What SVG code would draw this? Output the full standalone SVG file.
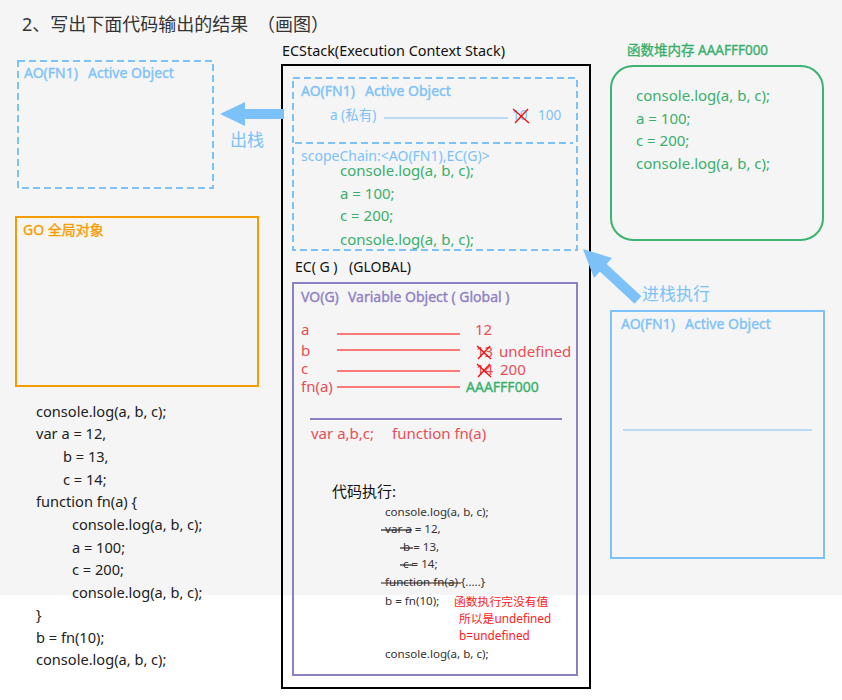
<svg xmlns="http://www.w3.org/2000/svg" width="842" height="700" viewBox="0 0 842 700">
<defs>
<style>
text{font-family:"Noto Sans","Noto Sans CJK SC",sans-serif;}
.t{fill:#333;font-size:18px;}
.lb{fill:#7cc2f8;font-size:14px;stroke:#7cc2f8;stroke-width:0.35;}
.lbc{fill:#7cc2f8;font-size:13.5px;}
.g{fill:#3aaf6c;font-size:15px;}
.r{fill:#ea4d55;font-size:15px;}
.k{fill:#222;font-size:14.6px;}
.s{fill:#333;font-size:11.6px;}
.rs{fill:#ff2020;font-size:11.8px;}
.dash{fill:none;stroke:#7cc2f8;stroke-width:2;stroke-dasharray:7,4;}
.rl{stroke:#ff0000;stroke-width:1.2;}
.x{stroke:#ff0000;stroke-width:1.2;}
.st{stroke:#222;stroke-width:1.2;}
</style>
</defs>
<rect x="0" y="0" width="842" height="595" fill="#f5f5f5"/>
<rect x="0" y="595" width="842" height="105" fill="#ffffff"/>
<text class="t" x="22" y="31">2、写出下面代码输出的结果</text>
<text class="t" x="257" y="31">（画图）</text>

<g id="ao-left">
<rect class="dash" x="18" y="61" width="195" height="127"/>
<text class="lb" x="24" y="78">AO(FN1)</text>
<text class="lb" x="88" y="78">Active Object</text>
</g>

<g id="go">
<rect x="16" y="217" width="242" height="169" fill="none" stroke="#f59d00" stroke-width="2"/>
<text x="23" y="235" style="fill:#f59d00;font-size:14px;stroke:#f59d00;stroke-width:0.35">GO 全局对象</text>
</g>

<g id="source-code">
<text class="k" x="36" y="417">console.log(a, b, c);</text>
<text class="k" x="36" y="439">var a = 12,</text>
<text class="k" x="63" y="462">b = 13,</text>
<text class="k" x="63" y="485">c = 14;</text>
<text class="k" x="36" y="507">function fn(a) {</text>
<text class="k" x="72" y="530">console.log(a, b, c);</text>
<text class="k" x="72" y="553">a = 100;</text>
<text class="k" x="72" y="575">c = 200;</text>
<text class="k" x="72" y="598">console.log(a, b, c);</text>
<text class="k" x="36" y="620">}</text>
<text class="k" x="36" y="643">b = fn(10);</text>
<text class="k" x="36" y="665">console.log(a, b, c);</text>
</g>

<g id="ecstack">
<text x="282" y="56" style="fill:#111;font-size:14.4px">ECStack(Execution Context Stack)</text>
<rect x="282" y="65" width="308" height="623" fill="none" stroke="#000" stroke-width="2"/>
</g>

<g id="ao-stack">
<rect class="dash" x="293" y="78" width="284" height="172"/>
<line class="dash" x1="295" y1="143" x2="573" y2="143"/>
<text class="lb" x="301" y="96">AO(FN1)</text>
<text class="lb" x="365" y="96">Active Object</text>
<text class="lbc" x="330" y="120">a (私有)</text>
<line x1="384" y1="118" x2="508" y2="118" stroke="#7cc2f8" stroke-width="1"/>
<text class="lbc" x="512" y="120">10</text>
<line class="x" x1="513" y1="109" x2="529" y2="123"/>
<line class="x" x1="528" y1="109" x2="515" y2="123"/>
<text class="lbc" x="538" y="120">100</text>
<text class="lbc" x="301" y="161" style="font-size:14px">scopeChain:&lt;AO(FN1),EC(G)&gt;</text>
<text class="g" x="340" y="176">console.log(a, b, c);</text>
<text class="g" x="340" y="199">a = 100;</text>
<text class="g" x="340" y="221">c = 200;</text>
<text class="g" x="340" y="245">console.log(a, b, c);</text>
</g>

<g id="heap">
<text x="627" y="55" style="fill:#3aaf6c;font-size:13.5px;stroke:#3aaf6c;stroke-width:0.35">函数堆内存 AAAFFF000</text>
<rect x="611" y="66" width="212" height="174" rx="22" fill="none" stroke="#3cb371" stroke-width="2"/>
<text class="g" x="636" y="101">console.log(a, b, c);</text>
<text class="g" x="636" y="124">a = 100;</text>
<text class="g" x="636" y="146">c = 200;</text>
<text class="g" x="636" y="169">console.log(a, b, c);</text>
</g>

<g id="ecg">
<text x="295" y="272" style="fill:#111;font-size:14px">EC( G )</text>
<text x="349" y="272" style="fill:#111;font-size:14px">(GLOBAL)</text>
<rect x="293" y="283" width="284" height="392" fill="none" stroke="#8e80c4" stroke-width="2"/>
<text x="301" y="302" style="fill:#8e80c4;font-size:14px;stroke:#8e80c4;stroke-width:0.35">VO(G)</text>
<text x="348" y="302" style="fill:#8e80c4;font-size:14px;stroke:#8e80c4;stroke-width:0.35">Variable Object ( Global )</text>
<text class="r" x="301" y="335">a</text>
<text class="r" x="301" y="356">b</text>
<text class="r" x="301" y="374">c</text>
<text class="r" x="301" y="392">fn(a)</text>
<line class="rl" x1="337" y1="334" x2="460" y2="334"/>
<line class="rl" x1="337" y1="350" x2="460" y2="350"/>
<line class="rl" x1="337" y1="371" x2="460" y2="371"/>
<line class="rl" x1="337" y1="387" x2="460" y2="387"/>
<text class="r" x="475" y="335">12</text>
<text class="r" x="476" y="357">13</text>
<line class="x" x1="477" y1="346" x2="491" y2="359"/>
<line class="x" x1="490" y1="346" x2="478" y2="359"/>
<text class="r" x="499" y="357">undefined</text>
<text class="r" x="476" y="375">14</text>
<line class="x" x1="477" y1="364" x2="491" y2="377"/>
<line class="x" x1="490" y1="364" x2="478" y2="377"/>
<text class="r" x="500" y="375">200</text>
<text x="466" y="392" style="fill:#3aaf6c;font-size:14px;stroke:#3aaf6c;stroke-width:0.35">AAAFFF000</text>
<line x1="310" y1="419" x2="562" y2="419" stroke="#8e80c4" stroke-width="2"/>
<text class="r" x="311" y="439">var a,b,c;</text>
<text class="r" x="392" y="439">function fn(a)</text>
</g>

<g id="exec">
<text x="332" y="497" style="fill:#111;font-size:15px">代码执行:</text>
<text class="s" x="385" y="516">console.log(a, b, c);</text>
<text class="s" x="385" y="533">var a = 12,</text>
<line class="st" x1="381" y1="530" x2="412" y2="530"/>
<text class="s" x="403" y="551">b = 13,</text>
<line class="st" x1="400" y1="548" x2="413" y2="548"/>
<text class="s" x="403" y="568">c = 14;</text>
<line class="st" x1="400" y1="565" x2="413" y2="565"/>
<text class="s" x="385" y="586">function fn(a) {.....}</text>
<line class="st" x1="381" y1="583" x2="461" y2="583"/>
<text class="s" x="385" y="605">b = fn(10);</text>
<text class="rs" x="454" y="606">函数执行完没有值</text>
<text class="rs" x="459" y="623">所以是undefined</text>
<text class="rs" x="459" y="640">b=undefined</text>
<text class="s" x="385" y="658">console.log(a, b, c);</text>
</g>

<g id="ao-right">
<rect x="611" y="311" width="213" height="247" fill="none" stroke="#7cc2f8" stroke-width="2"/>
<text class="lb" x="621" y="329">AO(FN1)</text>
<text class="lb" x="685" y="329">Active Object</text>
<line x1="623" y1="430" x2="812" y2="430" stroke="#7cc2f8" stroke-width="1"/>
</g>

<g id="connectors">
<polygon points="284,109 245,109 245,102 220,114 245,126 245,119 284,119" fill="#7cc2f8"/>
<text x="230" y="146" style="fill:#7cc2f8;font-size:17px">出栈</text>
<line x1="638" y1="300" x2="597" y2="262" stroke="#7cc2f8" stroke-width="10"/>
<polygon points="583,249 612,258 594,278" fill="#7cc2f8"/>
<text x="642" y="300" style="fill:#7cc2f8;font-size:17px">进栈执行</text>
</g>
</svg>
